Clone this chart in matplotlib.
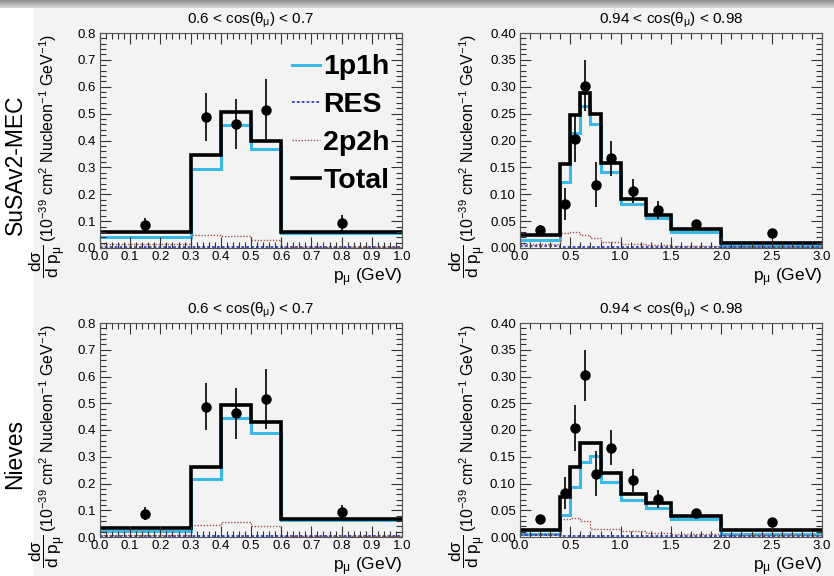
import numpy as np
import matplotlib
matplotlib.use("Agg")
import matplotlib.pyplot as plt
from matplotlib.ticker import MultipleLocator, AutoMinorLocator

plt.rcParams['font.family'] = ['Liberation Sans', 'DejaVu Sans']
plt.rcParams['mathtext.fontset'] = 'custom'
plt.rcParams['mathtext.rm'] = 'Liberation Sans'
plt.rcParams['mathtext.it'] = 'Liberation Sans'
plt.rcParams['mathtext.bf'] = 'Liberation Sans:bold'

# ---- data: 0.6 < cos < 0.7
edges_a = [0.0, 0.3, 0.4, 0.5, 0.6, 1.0]
data_x_a = [0.15, 0.35, 0.45, 0.55, 0.8]
data_y_a = [0.087, 0.487, 0.462, 0.515, 0.093]
data_e_a = [0.025, 0.088, 0.094, 0.113, 0.028]

susa_total_a = [0.060, 0.345, 0.507, 0.400, 0.058]
susa_1p1h_a = [0.040, 0.293, 0.457, 0.367, 0.055]
susa_2p2h_a = [0.014, 0.048, 0.045, 0.029, 0.004]
susa_res_a = [0.005, 0.002, 0.002, 0.002, 0.002]

niev_total_a = [0.034, 0.262, 0.495, 0.430, 0.067]
niev_1p1h_a = [0.022, 0.217, 0.443, 0.389, 0.062]
niev_2p2h_a = [0.009, 0.046, 0.055, 0.040, 0.004]
niev_res_a = [0.005, 0.002, 0.002, 0.002, 0.002]

# ---- data: 0.94 < cos < 0.98
edges_b = [0.0, 0.4, 0.5, 0.6, 0.7, 0.8, 1.0, 1.25, 1.5, 2.0, 3.0]
data_x_b = [0.2, 0.45, 0.55, 0.65, 0.75, 0.9, 1.125, 1.375, 1.75, 2.5]
data_y_b = [0.033, 0.082, 0.203, 0.302, 0.118, 0.167, 0.106, 0.071, 0.044, 0.028]
data_e_b = [0.009, 0.030, 0.043, 0.047, 0.042, 0.033, 0.022, 0.017, 0.007, 0.003]

susa_total_b = [0.024, 0.156, 0.247, 0.289, 0.249, 0.158, 0.091, 0.061, 0.035, 0.009]
susa_1p1h_b = [0.014, 0.123, 0.214, 0.264, 0.230, 0.142, 0.081, 0.055, 0.030, 0.004]
susa_2p2h_b = [0.008, 0.028, 0.030, 0.025, 0.018, 0.012, 0.008, 0.006, 0.004, 0.001]
susa_res_b = [0.003, 0.002, 0.002, 0.002, 0.002, 0.002, 0.002, 0.002, 0.001, 0.001]

niev_total_b = [0.013, 0.075, 0.131, 0.175, 0.176, 0.120, 0.081, 0.064, 0.039, 0.013]
niev_1p1h_b = [0.006, 0.042, 0.093, 0.140, 0.151, 0.103, 0.070, 0.054, 0.034, 0.006]
niev_2p2h_b = [0.006, 0.033, 0.036, 0.030, 0.015, 0.015, 0.011, 0.008, 0.006, 0.003]
niev_res_b = [0.004, 0.002, 0.002, 0.002, 0.002, 0.002, 0.002, 0.002, 0.001, 0.001]

title_a = r"0.6 < cos($\theta_{\mu}$) < 0.7"
title_b = r"0.94 < cos($\theta_{\mu}$) < 0.98"

W, H = 834, 576
BG = '#f3f3f3'
C_1P1H = '#3ab8e6'
C_RES = '#2b3fc8'
C_2P2H = '#a0524f'

fig = plt.figure(figsize=(W / 100, H / 100), dpi=100, facecolor=BG)

# slide decoration: white strip on the left, gray bar on the top
fig.patches.append(plt.Rectangle((0, 0), 33 / W, 1, transform=fig.transFigure,
                                 facecolor='white', edgecolor='none', zorder=-5))
bar = fig.add_axes([0, 1 - 8 / H, 1, 8 / H])
bar.imshow(np.linspace(0.55, 0.85, 20)[:, None] * np.ones((1, 10)), cmap='gray',
           vmin=0, vmax=1, aspect='auto', extent=[0, 1, 0, 1])
bar.axis('off')


def px_axes(x0, y0, x1, y1):
    return fig.add_axes([x0 / W, 1 - y1 / H, (x1 - x0) / W, (y1 - y0) / H])


def panel(ax, edges, total, p1h, p2h, res, dx, dy, de, title, ymax, ymaj, xmaj):
    ax.set_facecolor(BG)
    ax.stairs(p1h, edges, color=C_1P1H, lw=2.2, baseline=None, label='1p1h')
    ax.stairs(res, edges, color=C_RES, lw=1.3, ls=(0, (1.5, 1.2)), baseline=None, label='RES')
    ax.stairs(p2h, edges, color=C_2P2H, lw=1.0, ls=(0, (1, 1.2)), baseline=None, label='2p2h')
    ax.stairs(total, edges, color='black', lw=2.6, baseline=None, label='Total')
    ax.errorbar(dx, dy, yerr=de, fmt='o', color='black', ms=6.5, elinewidth=1.2, capsize=0)
    ax.set_xlim(edges[0], edges[-1])
    ax.set_ylim(0, ymax)
    ax.xaxis.set_major_locator(MultipleLocator(xmaj))
    ax.xaxis.set_minor_locator(AutoMinorLocator(5))
    ax.yaxis.set_major_locator(MultipleLocator(ymaj))
    ax.yaxis.set_minor_locator(AutoMinorLocator(5))
    if ymaj < 0.1:
        ax.yaxis.set_major_formatter(plt.FormatStrFormatter('%.2f'))
    else:
        ax.yaxis.set_major_formatter(plt.FormatStrFormatter('%.1f'))
    ax.xaxis.set_major_formatter(plt.FormatStrFormatter('%.1f'))
    ax.tick_params(which='both', direction='in', top=True, right=True,
                   labelsize=9.5, color='#333333', width=0.8)
    ax.tick_params(which='major', length=8)
    ax.tick_params(which='minor', length=4)
    ax.tick_params(axis='x', pad=2)
    ax.tick_params(axis='y', pad=3)
    for s in ax.spines.values():
        s.set_color('#555555')
        s.set_linewidth(0.8)
    ax.set_title(title, fontsize=11, pad=7)
    ax.text(1.0, -0.085, r"p$_{\mu}$ (GeV)", transform=ax.transAxes, ha='right', va='top',
            fontsize=12.5)


def ylabel(xpx, ybottom_px):
    fig.text(xpx / W, 1 - ybottom_px / H,
             r"$\dfrac{\mathrm{d}\sigma}{\mathrm{d}\ \mathrm{p}_{\mu}}$",
             rotation=90, ha='center', va='bottom', fontsize=12.5)
    fig.text(xpx / W, 1 - (ybottom_px - 36) / H,
             r"(10$^{-39}$ cm$^{2}$ Nucleon$^{-1}$ GeV$^{-1}$)",
             rotation=90, ha='center', va='bottom', fontsize=11.5)


ax1 = px_axes(100, 33, 402, 248)
panel(ax1, edges_a, susa_total_a, susa_1p1h_a, susa_2p2h_a, susa_res_a,
      data_x_a, data_y_a, data_e_a, title_a, 0.8, 0.1, 0.1)
ax2 = px_axes(520, 33, 822, 248)
panel(ax2, edges_b, susa_total_b, susa_1p1h_b, susa_2p2h_b, susa_res_b,
      data_x_b, data_y_b, data_e_b, title_b, 0.4, 0.05, 0.5)
ax3 = px_axes(100, 323, 402, 537)
panel(ax3, edges_a, niev_total_a, niev_1p1h_a, niev_2p2h_a, niev_res_a,
      data_x_a, data_y_a, data_e_a, title_a, 0.8, 0.1, 0.1)
ax4 = px_axes(520, 323, 822, 537)
panel(ax4, edges_b, niev_total_b, niev_1p1h_b, niev_2p2h_b, niev_res_b,
      data_x_b, data_y_b, data_e_b, title_b, 0.4, 0.05, 0.5)

ylabel(48, 278)
ylabel(468, 278)
ylabel(48, 568)
ylabel(468, 568)

fig.text(15 / W, 1 - 165 / H, "SuSAv2-MEC", rotation=90, ha='center', va='center', fontsize=16.5)
fig.text(15 / W, 1 - 454 / H, "Nieves", rotation=90, ha='center', va='center', fontsize=16.5)

ax1.legend(loc='upper right', bbox_to_anchor=(0.96, 0.90), frameon=False,
           prop={'weight': 'bold', 'size': 20.5}, handlelength=1.0, handletextpad=0.12,
           labelspacing=0.42, borderpad=0, borderaxespad=0)

fig.savefig('out.png', dpi=100, facecolor=BG)
